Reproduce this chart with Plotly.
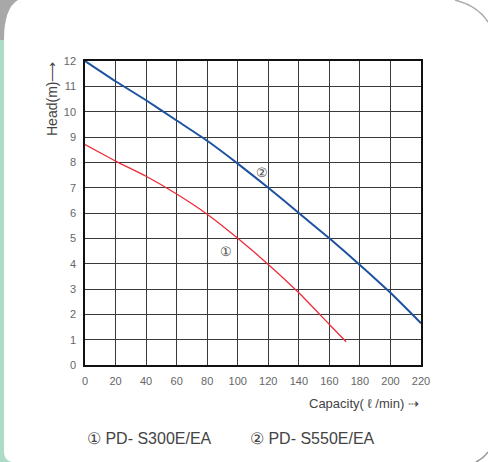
import plotly.graph_objects as go

# Data
capacity_s300 = [0, 20, 40, 60, 80, 100, 120, 140, 160, 171]
head_s300 = [8.7, 8.05, 7.45, 6.75, 5.95, 5.0, 3.97, 2.85, 1.6, 0.92]
capacity_s550 = [0, 20, 40, 60, 80, 100, 120, 140, 160, 180, 200, 220]
head_s550 = [12.0, 11.2, 10.45, 9.65, 8.85, 7.95, 7.0, 6.0, 5.0, 3.95, 2.85, 1.65]
x_ticks = list(range(0, 221, 20))
y_ticks = list(range(0, 13))
legend_labels = ["① PD- S300E/EA", "② PD- S550E/EA"]

W, H = 488, 462
L, R, T, B = 85, 421, 61, 365

def px(x):
    return (x - L) / (R - L)

def py(y):
    return (B - y) / (B - T)

font_main = "Liberation Sans, Arial, sans-serif"

fig = go.Figure()
fig.add_trace(go.Scatter(x=capacity_s550, y=head_s550, mode="lines",
                         line=dict(color="#1c52a0", width=2, shape="spline", smoothing=0.5),
                         showlegend=False, hoverinfo="skip"))
fig.add_trace(go.Scatter(x=capacity_s300, y=head_s300, mode="lines",
                         line=dict(color="#ee2a36", width=1.3, shape="spline", smoothing=0.5),
                         showlegend=False, hoverinfo="skip"))

axis_common = dict(showgrid=True, gridcolor="#3a3a3a", gridwidth=1,
                   zeroline=False, showline=True, linecolor="#111", mirror=True,
                   ticks="", ticklabelstandoff=5,
                   tickfont=dict(family=font_main, size=11, color="#666"))

fig.update_xaxes(range=[0, 220], tickvals=x_ticks, **axis_common, linewidth=1.5)
fig.update_yaxes(range=[0, 12], tickvals=y_ticks, **axis_common, linewidth=1.5)

def ann(x, y, text, size, xanchor="center", angle=0, xref="paper", yref="paper"):
    return dict(x=x, y=y, xref=xref, yref=yref, text=text, showarrow=False,
                xanchor=xanchor, yanchor="middle", textangle=angle,
                font=dict(family=font_main, size=size, color="#444"))

annotations = [
    ann(92, 4.5, "①", 13, xref="x", yref="y"),
    ann(116, 7.6, "②", 13, xref="x", yref="y"),
    ann(px(52), py(99), "Head(m)⟶", 14, angle=-90),
    ann(px(421), py(403), "Capacity( ℓ /min) ⇢", 13, xanchor="right"),
    ann(px(85), py(438), legend_labels[0], 16, xanchor="left"),
    ann(px(248), py(438), legend_labels[1], 16, xanchor="left"),
]

shapes = [
    # green left strip
    dict(type="path", xref="paper", yref="paper",
         path=f"M {px(0)},{py(40)} L {px(4)},{py(40)} L {px(4)},{py(452)} Q {px(4)},{py(460)} {px(12)},{py(462)} L {px(0)},{py(462)} Z",
         fillcolor="#acdcc6", line=dict(width=0), layer="below"),
    # gray top-left corner
    dict(type="path", xref="paper", yref="paper",
         path=f"M {px(0)},{py(0)} L {px(18)},{py(0)} Q {px(4)},{py(8)} {px(4)},{py(40)} L {px(0)},{py(40)} Z",
         fillcolor="#a8a8a8", line=dict(width=0), layer="below"),
    # top-right corner arc
    dict(type="path", xref="paper", yref="paper",
         path=f"M {px(455)},{py(0)} Q {px(478)},{py(6)} {px(488)},{py(22)}",
         line=dict(color="#aaaaaa", width=1.5), layer="below"),
    # bottom-right small arc
    dict(type="path", xref="paper", yref="paper",
         path=f"M {px(476)},{py(462)} Q {px(484)},{py(458)} {px(488)},{py(452)}",
         line=dict(color="#999999", width=1.5), layer="below"),
]

fig.update_layout(width=W, height=H,
                  margin=dict(l=L, r=W - R, t=T, b=H - B, pad=0),
                  paper_bgcolor="white", plot_bgcolor="white",
                  annotations=annotations, shapes=shapes)

fig.write_html("out.html", config={"displayModeBar": False},
               post_script="document.body.style.margin='0';document.body.style.overflow='hidden';")
